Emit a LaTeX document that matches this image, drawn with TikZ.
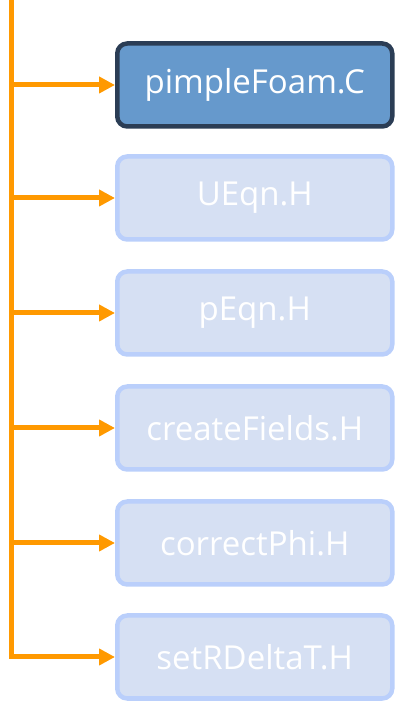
\documentclass[tikz,border=0pt]{standalone}
\usepackage{fontspec}
\setmainfont{Open Sans}
\usetikzlibrary{arrows.meta}
\definecolor{branch}{HTML}{FF9900}
\definecolor{mainfill}{HTML}{6699CC}
\definecolor{mainedge}{HTML}{2B3D55}
\definecolor{subfill}{HTML}{D6E0F3}
\definecolor{subedge}{HTML}{BACFFB}

\begin{document}
\begin{tikzpicture}[x=1pt,y=1pt]
\tikzstyle{file}=[rounded corners=10pt,minimum width=275pt,minimum height=83pt,line width=4.5pt,text=white,font=\fontsize{33}{40}\selectfont,anchor=west]
\tikzstyle{mainfile}=[file,draw=mainedge,fill=mainfill]
\tikzstyle{subfile}=[file,draw=subedge,fill=subfill]
\tikzstyle{feed}=[branch,line width=5pt,-{Triangle[length=16pt,width=16pt]}]
\useasboundingbox (0,0) rectangle (394,701);
\coordinate (top) at (11.5,701);
% solver file and its includes
\node[mainfile] (pimple) at (115,616) {pimpleFoam.C};
\foreach \name/\txt/\y in {ueqn/UEqn.H/503,peqn/pEqn.H/388,fields/createFields.H/273,phi/correctPhi.H/158,rdelta/setRDeltaT.H/44}
  \node[subfile] (\name) at (115,\y) {\txt};
% orange branches
\draw[feed] (top) |- (rdelta.west);
\foreach \name in {pimple,ueqn,peqn,fields,phi}
  \draw[feed] (top |- \name.west) -- (\name.west);
\end{tikzpicture}
\end{document}
